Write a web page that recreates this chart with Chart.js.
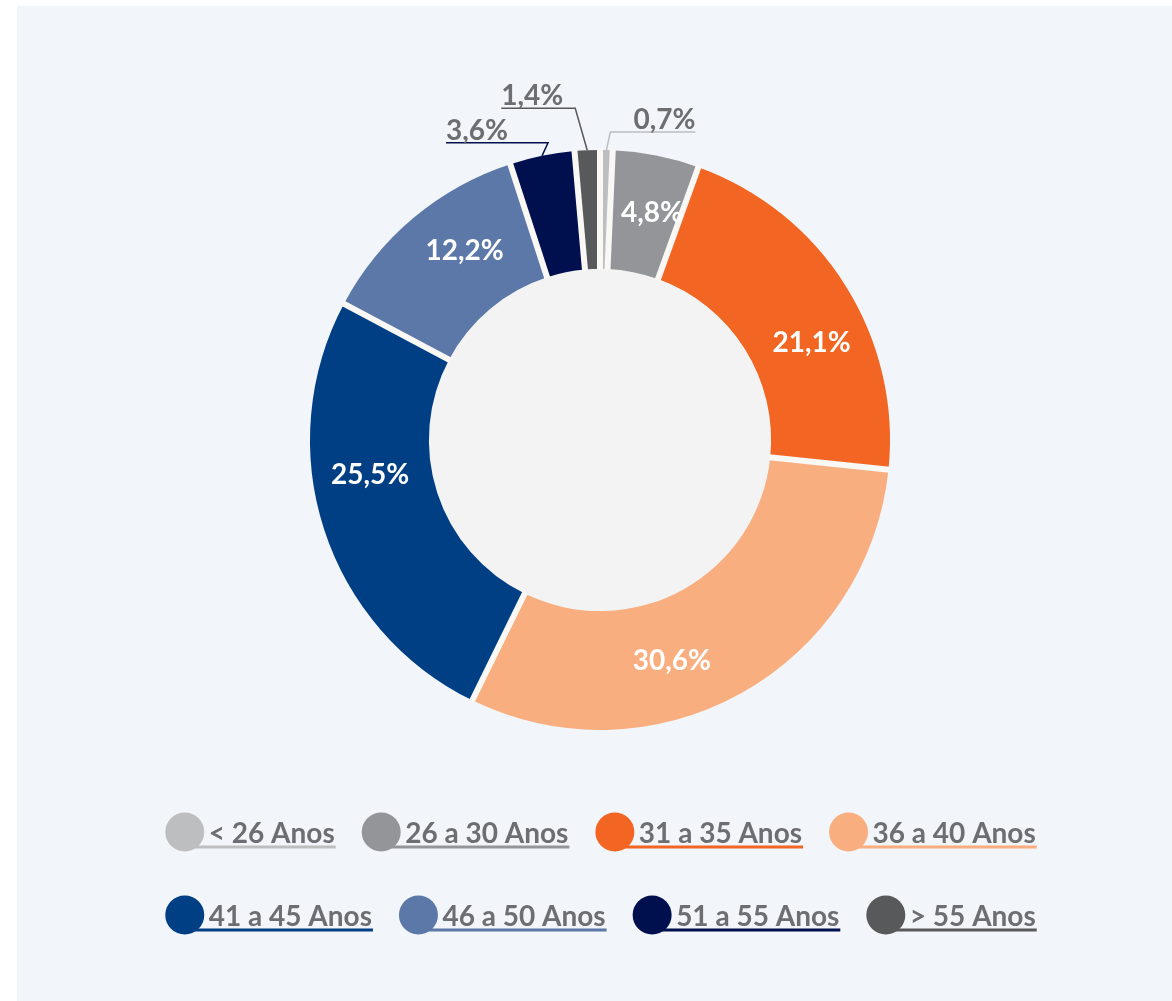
<!DOCTYPE html>
<html>
<head>
<meta charset="utf-8">
<script src="https://cdn.jsdelivr.net/npm/chart.js@4.4.1/dist/chart.umd.min.js"></script>
<style>
    html, body { margin: 0; padding: 0; background: #fff; }
    #panel { position: absolute; left: 17px; top: 6px; right: 0; bottom: 0; background: #f2f5f9; }
    #ageChart { position: absolute; left: 0; top: 0; }
</style>
</head>
<body>
<div id="panel"></div>
<canvas id="ageChart" width="1172" height="1001"></canvas>
<script>
const faixas = ['< 26 Anos', '26 a 30 Anos', '31 a 35 Anos', '36 a 40 Anos',
                '41 a 45 Anos', '46 a 50 Anos', '51 a 55 Anos', '> 55 Anos'];
const percentagens = [0.7, 4.8, 21.1, 30.6, 25.5, 12.2, 3.6, 1.4];
const cores = ['#bcbec0', '#939598', '#f26522', '#f8ae7f',
               '#003f84', '#5b78a9', '#000f4d', '#58595b'];

const FONT = 'bold 28px Lato, "Open Sans", sans-serif';
const GREY_TEXT = '#6d6e71';
const SEP = '#f9f8f4';

const fmt = v => v.toFixed(1).replace('.', ',') + '%';

// fundo do centro (cinza claro)
const centerFillPlugin = {
    id: 'centerFill',
    beforeDatasetsDraw(chart) {
        const arc = chart.getDatasetMeta(0).data[0];
        if (!arc) return;
        const { ctx } = chart;
        ctx.save();
        ctx.fillStyle = '#f3f3f3';
        ctx.beginPath();
        ctx.arc(arc.x, arc.y, arc.innerRadius, 0, Math.PI * 2);
        ctx.fill();
        ctx.restore();
    }
};

// separadores brancos entre fatias
const separatorPlugin = {
    id: 'separators',
    afterDatasetsDraw(chart) {
        const { ctx } = chart;
        ctx.save();
        ctx.strokeStyle = SEP;
        ctx.lineWidth = 6;
        ctx.lineCap = 'butt';
        chart.getDatasetMeta(0).data.forEach(arc => {
            const a = arc.startAngle;
            ctx.beginPath();
            ctx.moveTo(arc.x + (arc.innerRadius - 1) * Math.cos(a), arc.y + (arc.innerRadius - 1) * Math.sin(a));
            ctx.lineTo(arc.x + (arc.outerRadius + 1) * Math.cos(a), arc.y + (arc.outerRadius + 1) * Math.sin(a));
            ctx.stroke();
        });
        ctx.restore();
    }
};

// etiquetas das fatias + chamadas para as fatias pequenas
const callouts = {
    0: { dx: 4, dy: -18, len: 85 },
    7: { dx: -12, dy: -42, len: -74 },
    6: { dx: 6, dy: -13, len: -102 }
};

const sliceLabelsPlugin = {
    id: 'sliceLabels',
    afterDatasetsDraw(chart) {
        const { ctx } = chart;
        const arcs = chart.getDatasetMeta(0).data;
        ctx.save();
        ctx.font = FONT;
        arcs.forEach((arc, i) => {
            const v = percentagens[i];
            const { x, y, startAngle, endAngle, innerRadius, outerRadius } = arc;
            if (callouts[i]) {
                const c = callouts[i];
                const mid = (startAngle + endAngle) / 2;
                const ax = x + outerRadius * Math.cos(mid);
                const ay = y + outerRadius * Math.sin(mid);
                const ex = ax + c.dx, ey = ay + c.dy;
                const fx = ex + c.len;
                ctx.strokeStyle = cores[i];
                ctx.lineWidth = 1.5;
                ctx.beginPath();
                ctx.moveTo(ax, ay);
                ctx.lineTo(ex, ey);
                ctx.lineTo(fx, ey);
                ctx.stroke();
                ctx.fillStyle = GREY_TEXT;
                ctx.textBaseline = 'alphabetic';
                ctx.textAlign = c.len > 0 ? 'right' : 'left';
                ctx.fillText(fmt(v), fx, ey - 3);
            } else {
                const a = startAngle + (endAngle - startAngle) * 0.6;
                const r = (innerRadius + outerRadius) / 2 + 2;
                ctx.fillStyle = '#ffffff';
                ctx.textAlign = 'center';
                ctx.textBaseline = 'middle';
                ctx.fillText(fmt(v), x + r * Math.cos(a), y + r * Math.sin(a));
            }
        });
        ctx.restore();
    }
};

// legenda em duas linhas, com bolinha e sublinhado
const legendPlugin = {
    id: 'ageLegend',
    afterDraw(chart) {
        const { ctx } = chart;
        const rows = [[0, 1, 2, 3], [4, 5, 6, 7]];
        const rowY = [832, 915];
        const dot = 19.5, textGap = 24, itemGap = 27, midX = 600.5;
        ctx.save();
        ctx.font = FONT;
        rows.forEach((row, r) => {
            const widths = row.map(i => dot + textGap + ctx.measureText(faixas[i]).width);
            const total = widths.reduce((a, b) => a + b, 0) + itemGap * (row.length - 1);
            let left = midX - total / 2;
            const cy = rowY[r];
            row.forEach((i, k) => {
                const cx = left + dot;
                const tx = cx + textGap;
                const tw = ctx.measureText(faixas[i]).width;
                ctx.strokeStyle = cores[i];
                ctx.lineWidth = 3;
                ctx.beginPath();
                ctx.moveTo(cx, cy + 15);
                ctx.lineTo(tx + tw + 1, cy + 15);
                ctx.stroke();
                ctx.fillStyle = cores[i];
                ctx.beginPath();
                ctx.arc(cx, cy, dot, 0, Math.PI * 2);
                ctx.fill();
                ctx.fillStyle = GREY_TEXT;
                ctx.textAlign = 'left';
                ctx.textBaseline = 'alphabetic';
                ctx.fillText(faixas[i], tx, cy + 11);
                left += widths[k] + itemGap;
            });
        });
        ctx.restore();
    }
};

new Chart(document.getElementById('ageChart'), {
    type: 'doughnut',
    data: {
        labels: faixas,
        datasets: [{
            data: percentagens,
            backgroundColor: cores,
            borderWidth: 0
        }]
    },
    options: {
        responsive: false,
        animation: false,
        events: [],
        cutout: '59%',
        layout: { padding: { left: 310, right: 282, top: 150, bottom: 271 } },
        plugins: {
            legend: { display: false },
            tooltip: { enabled: false }
        }
    },
    plugins: [centerFillPlugin, separatorPlugin, sliceLabelsPlugin, legendPlugin]
});
</script>
</body>
</html>
